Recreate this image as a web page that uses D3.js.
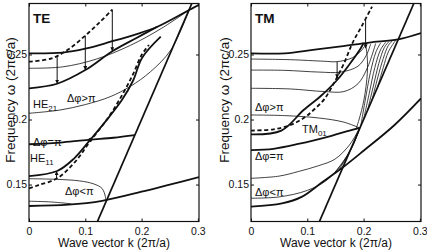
<!DOCTYPE html>
<html>
<head>
<meta charset="utf-8">
<script src="https://cdn.jsdelivr.net/npm/d3@7"></script>
<style>
body { margin: 0; background: #fff; }
text { font-family: "Liberation Sans", Arial, Helvetica, sans-serif; fill: #111; }
</style>
</head>
<body>
<svg id="chart" width="427" height="250"></svg>
<script>
// axis ticks
var kTicks = [0, 0.1, 0.2, 0.3];
var wTicks = [0.15, 0.2, 0.25];

// light line w = k
var lightLine = [[0.1216, 0.1216], [0.2892, 0.2892]];

// ---- TE panel curves, [k, w] ----
var teTop = [[0, 0.2509], [0.06, 0.2515], [0.10, 0.2545], [0.145, 0.2598], [0.19, 0.2655], [0.228, 0.2713], [0.2845, 0.2842], [0.302, 0.2882]];
var teThinA = [[0, 0.2394], [0.06, 0.2405], [0.12, 0.2465], [0.18, 0.2570], [0.235, 0.2700], [0.2845, 0.2842]];
var teMid = [[0, 0.224], [0.05, 0.2275], [0.10, 0.238], [0.148, 0.2525], [0.19, 0.2625], [0.228, 0.2713]];
var teHE21 = [[0, 0.2048], [0.055, 0.2073], [0.10, 0.2115], [0.144, 0.2175], [0.18, 0.2255], [0.216, 0.2368], [0.252, 0.2535], [0.2845, 0.2842]];
var teDashTop = [[0, 0.2445], [0.04, 0.2470], [0.07, 0.2540], [0.10, 0.2645], [0.125, 0.2745], [0.148, 0.2845]];
var teHE11 = [[0, 0.1565], [0.05, 0.1604], [0.08, 0.170], [0.109, 0.1845], [0.135, 0.198], [0.165, 0.215], [0.185, 0.230], [0.201, 0.2475], [0.234, 0.2637]];
var teDashHE11 = [[0, 0.147], [0.017, 0.1496], [0.05, 0.1548], [0.082, 0.1675], [0.109, 0.1835], [0.14, 0.201], [0.165, 0.2185], [0.185, 0.235], [0.20, 0.2496], [0.213, 0.2573]];
var tePi = [[0, 0.181], [0.06, 0.1825], [0.109, 0.1845], [0.15, 0.186], [0.188, 0.188]];
var teBulb = [[0, 0.1545], [0.05, 0.154], [0.09, 0.1528], [0.115, 0.1505], [0.1298, 0.147], [0.1357, 0.1406], [0.136, 0.1385]];
var teBulbLow = [[0, 0.1372], [0.04, 0.1366], [0.075, 0.1352]];
var teLow = [[0, 0.1335], [0.07, 0.1345], [0.13, 0.1375], [0.2, 0.1445], [0.25, 0.150], [0.302, 0.1557]];
var teArrows = [[0.05, 0.249, 0.2275], [0.10, 0.2645, 0.238], [0.148, 0.2845, 0.2525], [0.049, 0.1548, 0.1604]];
var teDots = [[0.109, 0.1845]];

// ---- TM panel curves, [k, w] ----
var tmTop = [[0, 0.2509], [0.06, 0.2509], [0.11, 0.2535], [0.16, 0.2562], [0.21, 0.2592], [0.2617, 0.2617], [0.302, 0.2665]];
var tmThin1 = [[0, 0.2465], [0.07, 0.246], [0.13, 0.2448], [0.153, 0.2445], [0.18, 0.2475], [0.197, 0.2535], [0.2036, 0.2577]];
var tmThin2 = [[0, 0.238], [0.06, 0.2378], [0.12, 0.2365], [0.16, 0.2365], [0.19, 0.241], [0.205, 0.2495], [0.2125, 0.258]];
var tmThin3 = [[0, 0.224], [0.07, 0.2235], [0.13, 0.2215], [0.165, 0.2215], [0.19, 0.2275], [0.207, 0.24], [0.2214, 0.2585]];
var tmThin4 = [[0, 0.2035], [0.06, 0.203], [0.12, 0.2012], [0.165, 0.198], [0.193, 0.1935]];
var tmFan0 = [[0.186, 0.192], [0.1917, 0.1996], [0.2006, 0.215], [0.2066, 0.2355], [0.2065, 0.248], [0.2036, 0.2577]];
var tmFan1 = [[0.195, 0.195], [0.203, 0.215], [0.212, 0.236], [0.222, 0.252], [0.2304, 0.259]];
var tmFan2 = [[0.20, 0.20], [0.21, 0.22], [0.22, 0.24], [0.23, 0.2535], [0.2393, 0.2595]];
var tmFan3 = [[0.207, 0.207], [0.217, 0.225], [0.227, 0.243], [0.237, 0.2555], [0.2452, 0.260]];
var tmFan4 = [[0.215, 0.215], [0.225, 0.232], [0.235, 0.247], [0.244, 0.257], [0.2512, 0.2605]];
var tmFan5 = [[0.225, 0.225], [0.235, 0.24], [0.244, 0.252], [0.2571, 0.261]];
var tmTM01 = [[0, 0.1886], [0.054, 0.1915], [0.0934, 0.2073], [0.125, 0.2185], [0.153, 0.2304], [0.175, 0.2425], [0.195, 0.2548], [0.20, 0.259]];
var tmDash = [[0, 0.1915], [0.04, 0.1925], [0.07, 0.1958], [0.095, 0.2015], [0.111, 0.2073], [0.13, 0.2155], [0.147, 0.2278], [0.165, 0.243], [0.18, 0.2586], [0.197, 0.272], [0.215, 0.2868]];
var tmPi = [[0, 0.1765], [0.04, 0.1775], [0.084, 0.1812], [0.143, 0.1875], [0.175, 0.1915], [0.193, 0.1935]];
var tmThin5 = [[0, 0.1548], [0.05, 0.1565], [0.084, 0.16], [0.12, 0.1645], [0.149, 0.1695], [0.175, 0.1805], [0.193, 0.1935]];
var tmThin6 = [[0, 0.1395], [0.05, 0.1405], [0.10, 0.1455], [0.135, 0.1535], [0.16, 0.1655], [0.18, 0.1795], [0.193, 0.1935]];
var tmFanLow1 = [[0.145, 0.157], [0.165, 0.168], [0.182, 0.181], [0.193, 0.1935]];
var tmFanLow2 = [[0.155, 0.1605], [0.172, 0.1725], [0.185, 0.184], [0.193, 0.1935]];
var tmLow = [[0, 0.133], [0.055, 0.1355], [0.09, 0.1405], [0.127, 0.152], [0.161, 0.1625], [0.2, 0.176], [0.255, 0.1958], [0.302, 0.2162]];
var tmArrows = [[0.2036, 0.2765, 0.2548], [0.153, 0.2445, 0.2317]];

var panels = [
    {
        name: 'TE', left: 29, titleX: 15,
        lines: [
            {d: lightLine, kind: 'thick'},
            {d: teTop, kind: 'thick'}, {d: teThinA, kind: 'thin'}, {d: teMid, kind: 'thick'},
            {d: teHE21, kind: 'thin'}, {d: teDashTop, kind: 'dash'}, {d: teHE11, kind: 'thick'},
            {d: teDashHE11, kind: 'dash'}, {d: tePi, kind: 'thick'}, {d: teBulb, kind: 'thin'},
            {d: teBulbLow, kind: 'thin'}, {d: teLow, kind: 'thick'}
        ],
        arrows: teArrows, dots: teDots,
        labels: [
            {t: 'HE', sub: '21', x: 33, y: 108},
            {t: 'Δφ>π', x: 67, y: 102},
            {t: 'Δφ=π', x: 33, y: 146},
            {t: 'HE', sub: '11', x: 30, y: 162},
            {t: 'Δφ<π', x: 65, y: 195}
        ]
    },
    {
        name: 'TM', left: 251, titleX: 229,
        lines: [
            {d: lightLine, kind: 'thick'},
            {d: tmTop, kind: 'thick'}, {d: tmThin1, kind: 'thin'}, {d: tmThin2, kind: 'thin'},
            {d: tmThin3, kind: 'thin'}, {d: tmThin4, kind: 'thin'}, {d: tmFan0, kind: 'thin'},
            {d: tmFan1, kind: 'thin'}, {d: tmFan2, kind: 'thin'}, {d: tmFan3, kind: 'thin'},
            {d: tmFan4, kind: 'thin'}, {d: tmFan5, kind: 'thin'}, {d: tmTM01, kind: 'thick'},
            {d: tmDash, kind: 'dash'}, {d: tmPi, kind: 'thick'}, {d: tmThin5, kind: 'thin'},
            {d: tmThin6, kind: 'thin'}, {d: tmFanLow1, kind: 'thin'}, {d: tmFanLow2, kind: 'thin'},
            {d: tmLow, kind: 'thick'}
        ],
        arrows: tmArrows, dots: [],
        labels: [
            {t: 'Δφ>π', x: 255, y: 111},
            {t: 'TM', sub: '01', x: 302, y: 133},
            {t: 'Δφ=π', x: 255, y: 160},
            {t: 'Δφ<π', x: 255, y: 196}
        ]
    }
];

var plotTop = 3.5;
var width = 170;
var height = 218;

var svg = d3.select('#chart');

svg.append('defs').append('marker')
    .attr('id', 'head')
    .attr('markerUnits', 'userSpaceOnUse')
    .attr('markerWidth', 4)
    .attr('markerHeight', 4)
    .attr('refX', 4)
    .attr('refY', 2)
    .attr('orient', 'auto')
    .append('path')
    .attr('d', 'M0,0 L4,2 L0,4 z')
    .attr('fill', '#111');

var xScale = d3.scaleLinear().domain([0, 0.302]).range([0, width]);
var yScale = d3.scaleLinear().domain([0.1216, 0.2892]).range([height, 0]);

var line = d3.line()
    .x(d => xScale(d[0]))
    .y(d => yScale(d[1]))
    .curve(d3.curveCatmullRom.alpha(0.5));

var styles = {
    thick: {w: 1.8, dash: null},
    thin: {w: 0.8, dash: null},
    dash: {w: 1.8, dash: '4,2.6'}
};

panels.forEach(function(p, i) {
    svg.append('clipPath')
        .attr('id', 'clip' + i)
        .append('rect')
        .attr('width', width)
        .attr('height', height);

    var g = svg.append('g')
        .attr('transform', `translate(${p.left}, ${plotTop})`);

    var plot = g.append('g').attr('clip-path', `url(#clip${i})`);

    p.lines.forEach(function(l) {
        plot.append('path')
            .attr('d', line(l.d))
            .attr('fill', 'none')
            .attr('stroke', '#111')
            .attr('stroke-width', styles[l.kind].w)
            .attr('stroke-dasharray', styles[l.kind].dash)
            .attr('stroke-linejoin', 'round');
    });

    plot.selectAll('.arrow')
        .data(p.arrows)
        .enter()
        .append('line')
        .attr('x1', d => xScale(d[0]))
        .attr('x2', d => xScale(d[0]))
        .attr('y1', d => yScale(d[1]))
        .attr('y2', d => yScale(d[2]))
        .attr('stroke', '#111')
        .attr('stroke-width', 1)
        .attr('marker-end', 'url(#head)');

    plot.selectAll('.dot')
        .data(p.dots)
        .enter()
        .append('circle')
        .attr('cx', d => xScale(d[0]))
        .attr('cy', d => yScale(d[1]))
        .attr('r', 2)
        .attr('fill', '#111');

    // axes with inward ticks
    var xb = g.append('g')
        .attr('transform', `translate(0, ${height})`)
        .call(d3.axisBottom(xScale).tickValues(kTicks).tickSizeInner(-3).tickSizeOuter(0).tickPadding(6)
            .tickFormat(d => d === 0 ? '0' : d3.format('.1f')(d)));
    var yl = g.append('g')
        .call(d3.axisLeft(yScale).tickValues(wTicks).tickSizeInner(-3).tickSizeOuter(0).tickPadding(2)
            .tickFormat(d => String(d)));
    var xt = g.append('g')
        .call(d3.axisTop(xScale).tickValues(kTicks).tickSizeInner(-3).tickSizeOuter(0).tickFormat(''));
    var yr = g.append('g')
        .attr('transform', `translate(${width}, 0)`)
        .call(d3.axisRight(yScale).tickValues(wTicks).tickSizeInner(-3).tickSizeOuter(0).tickFormat(''));
    [xb, yl, xt, yr].forEach(function(a) {
        a.select('.domain').remove();
        a.selectAll('line').attr('stroke', '#111');
        a.attr('font-size', 10.5).attr('font-family', '"Liberation Sans", Arial, sans-serif');
        a.selectAll('text').attr('fill', '#111');
    });

    g.append('rect')
        .attr('width', width)
        .attr('height', height)
        .attr('fill', 'none')
        .attr('stroke', '#111')
        .attr('stroke-width', 1.2);

    g.append('text')
        .attr('x', 4)
        .attr('y', 19.5)
        .attr('font-size', 13.5)
        .attr('font-weight', 'bold')
        .text(p.name);

    p.labels.forEach(function(lb) {
        var t = svg.append('text')
            .attr('x', lb.x)
            .attr('y', lb.y)
            .attr('font-size', 11)
            .text(lb.t);
        if (lb.sub) {
            t.append('tspan')
                .attr('font-size', 8)
                .attr('dy', 3)
                .text(lb.sub);
        }
    });

    svg.append('text')
        .attr('transform', `translate(${p.left + width / 2}, 247)`)
        .attr('text-anchor', 'middle')
        .attr('font-size', 12)
        .text('Wave vector k (2π/a)');

    svg.append('text')
        .attr('transform', `translate(${p.titleX}, 100) rotate(-90)`)
        .attr('text-anchor', 'middle')
        .attr('font-size', 13.5)
        .text('Frequency ω (2πc/a)');
});
</script>
</body>
</html>
